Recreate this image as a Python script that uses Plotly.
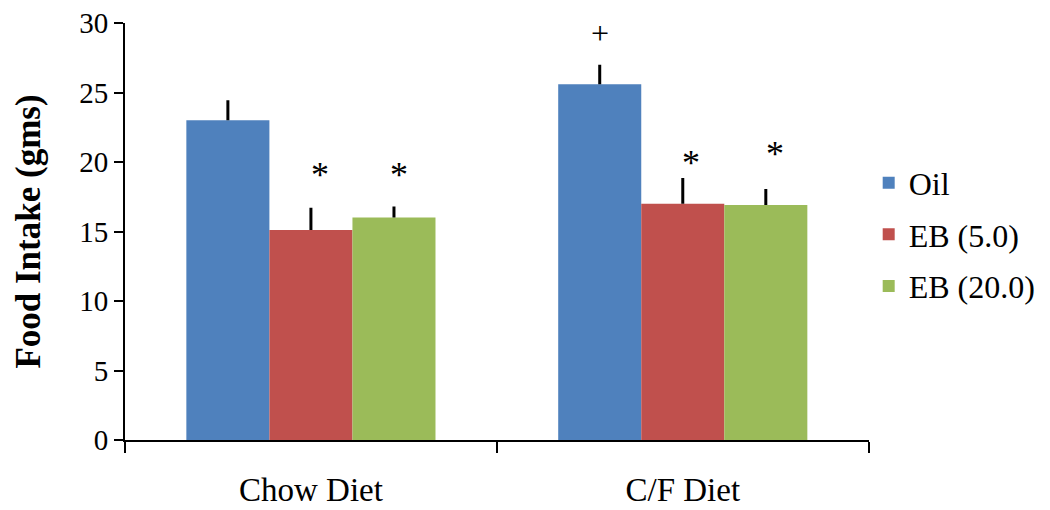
import plotly.graph_objects as go

categories = ["Chow Diet", "C/F Diet"]
series_names = ["Oil", "EB (5.0)", "EB (20.0)"]
colors = ["#4F81BD", "#C0504D", "#9BBB59"]
means = {
    "Oil": [23.0, 25.6],
    "EB (5.0)": [15.1, 17.0],
    "EB (20.0)": [16.0, 16.9],
}
errors = {
    "Oil": [1.45, 1.4],
    "EB (5.0)": [1.6, 1.85],
    "EB (20.0)": [0.8, 1.15],
}
# significance markers: (category index, series index, label, y position)
markers = [
    (0, 1, "*", 19.1),
    (0, 2, "*", 19.1),
    (1, 0, "+", 29.3),
    (1, 1, "*", 19.95),
    (1, 2, "*", 20.6),
]
marker_xshift = [9, 5, 0, 8, 9]
y_ticks = [0, 5, 10, 15, 20, 25, 30]

FONT = "Liberation Serif, Times New Roman, serif"
bargap = 0.33
bar_w = (1 - bargap) / 3

fig = go.Figure()
for i, name in enumerate(series_names):
    fig.add_trace(go.Bar(
        x=categories, y=means[name], name=name,
        marker=dict(color=colors[i], line=dict(width=0)),
        error_y=dict(type="data", symmetric=False, array=errors[name],
                     arrayminus=[0] * len(categories),
                     color="black", thickness=3, width=0),
        legendgroup=name,
    ))

for (ci, si, label, yv), xs in zip(markers, marker_xshift):
    fig.add_annotation(x=ci + (si - 1) * bar_w, y=yv, text=label, showarrow=False,
                       xref="x", yref="y", xshift=xs,
                       font=dict(family=FONT, size=36 if label == "*" else 32, color="black"))

# page body has an 8px margin; compensate so the chart lands where the reference has it
fig.update_layout(
    width=1042, height=502,
    margin=dict(l=117, r=7, t=15, b=70),
    paper_bgcolor="white", plot_bgcolor="white",
    barmode="group", bargap=bargap, bargroupgap=0,
    font=dict(family=FONT, color="black"),
    legend=dict(xref="container", x=0.826, xanchor="left",
                yref="container", y=0.549, yanchor="middle",
                font=dict(family=FONT, size=32), tracegroupgap=7,
                itemwidth=30),
    showlegend=True,
)
fig.update_xaxes(
    showline=True, linecolor="black", linewidth=2, automargin=False,
    ticks="outside", tickson="boundaries", ticklen=11, tickwidth=2, tickcolor="black",
    tickfont=dict(family=FONT, size=33), ticklabelstandoff=19,
    showgrid=False, zeroline=False,
)
fig.update_yaxes(
    range=[0, 30], tickvals=y_ticks, showline=True, linecolor="black", linewidth=2,
    automargin=False, ticklabeloverflow="allow",
    ticks="outside", ticklen=9, tickwidth=2, tickcolor="black",
    tickfont=dict(family=FONT, size=29), showgrid=False, zeroline=False,
    title=dict(text="<b>Food Intake (gms)</b>", font=dict(family=FONT, size=35), standoff=28),
)
fig.write_html("out.html")
